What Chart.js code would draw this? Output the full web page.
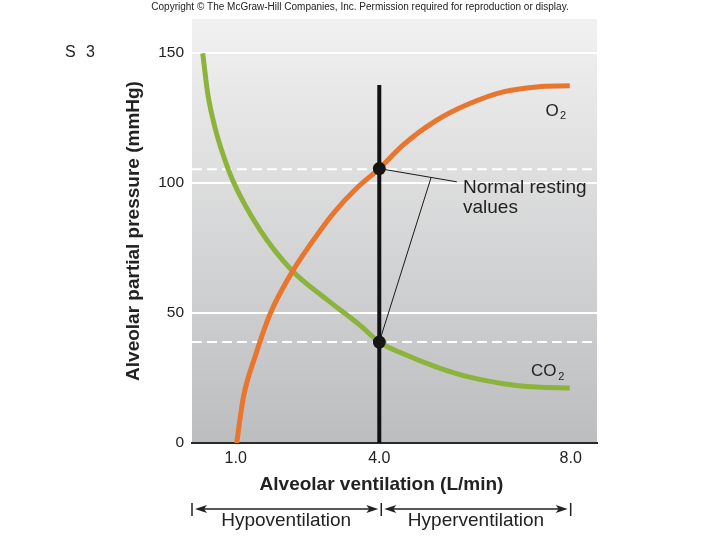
<!DOCTYPE html>
<html>
<head>
<meta charset="utf-8">
<script src="https://cdn.jsdelivr.net/npm/chart.js@4.4.1/dist/chart.umd.min.js"></script>
<style>
  html, body { margin: 0; padding: 0; background: #fff; }
  #wrap { width: 720px; height: 540px; }
</style>
</head>
<body>
<div id="wrap"><canvas id="ventChart" width="720" height="540"></canvas></div>
<script>
// values: ventilation in L/min, pressure in mmHg
const ventTicks = [1, 4, 8];
const pressureTicks = [0, 50, 100, 150];

const o2Vent = [1.02, 1.16, 1.40, 1.72, 2.20, 2.76, 3.04, 3.53, 4.0, 4.50, 5.20, 5.89, 6.59, 7.29, 7.98];
const o2Pressure = [0, 17.6, 33.0, 49.7, 66.4, 81.5, 88.3, 98.0, 105.5, 114.6, 124.1, 130.5, 135.0, 136.9, 137.3];

const co2Vent = [0.31, 0.42, 0.57, 0.74, 0.95, 1.51, 2.17, 2.90, 3.60, 4.0, 4.50, 5.20, 5.89, 6.59, 7.29, 7.98];
const co2Pressure = [149.8, 133.7, 121.0, 110.6, 100.4, 81.8, 66.4, 55.2, 45.2, 38.8, 34.3, 29.2, 25.3, 22.8, 21.5, 21.1];

// normal resting point
const restVent = 4.0;
const restO2 = 105.5;
const restCO2 = 38.8;
const restLineTop = 137.6;

// leader from the label to the two dots
const leaderEnd = [5.62, 100.4];
const leaderJoint = [5.08, 101.9];

const xMin = 0.086, xMax = 8.55;
const yMin = 0, yMax = 163;

const FONT = "'Liberation Sans', Arial, Helvetica, sans-serif";

function pts(xs, ys) {
  return xs.map((x, i) => ({ x: x, y: ys[i] }));
}

const panelBackground = {
  id: "panelBackground",
  beforeDraw(chart) {
    const { ctx, chartArea: a } = chart;
    const g = ctx.createLinearGradient(0, a.top, 0, a.bottom);
    g.addColorStop(0, "#f1f1f1");
    g.addColorStop(1, "#bcbdbf");
    ctx.save();
    ctx.fillStyle = g;
    ctx.fillRect(a.left, a.top, a.right - a.left, a.bottom - a.top);
    ctx.restore();
  }
};

function arrow(ctx, x1, x2, y) {
  ctx.beginPath();
  ctx.moveTo(x1 + 4, y);
  ctx.lineTo(x2 - 4, y);
  ctx.stroke();
  [[x1, 1], [x2, -1]].forEach(([x, d]) => {
    ctx.beginPath();
    ctx.moveTo(x, y);
    ctx.lineTo(x + d * 12, y - 4);
    ctx.lineTo(x + d * 9, y);
    ctx.lineTo(x + d * 12, y + 4);
    ctx.closePath();
    ctx.fill();
  });
}

const extraText = {
  id: "extraText",
  afterDraw(chart) {
    const ctx = chart.ctx;
    const xs = chart.scales.x;
    ctx.save();
    ctx.fillStyle = "#222";
    ctx.strokeStyle = "#222";

    // copyright line
    ctx.font = "10px " + FONT;
    ctx.textAlign = "center";
    ctx.textBaseline = "middle";
    ctx.fillText("Copyright \u00a9 The McGraw-Hill Companies, Inc. Permission required for reproduction or display.", 360, 7);

    // slide number
    ctx.font = "16px " + FONT;
    ctx.textAlign = "left";
    ctx.textBaseline = "alphabetic";
    ctx.letterSpacing = "3px";
    ctx.fillText("S 3", 65, 57);
    ctx.letterSpacing = "0px";

    // x axis title
    ctx.font = "bold 19px " + FONT;
    ctx.textAlign = "center";
    ctx.fillText("Alveolar ventilation (L/min)", 381.5, 490);

    // callout
    ctx.font = "19px " + FONT;
    ctx.textAlign = "left";
    ctx.fillText("Normal resting", 463, 192.5);
    ctx.fillText("values", 463, 212.5);

    // curve labels
    ctx.font = "17px " + FONT;
    ctx.fillText("O", 545.5, 116);
    ctx.fillText("CO", 531, 375.5);
    ctx.font = "11px " + FONT;
    ctx.fillText("2", 560, 118.5);
    ctx.fillText("2", 558.3, 379.5);

    // hypo / hyper ranges
    const pL = chart.chartArea.left;
    const pMid = xs.getPixelForValue(restVent) + 2;
    const pR = xs.getPixelForValue(ventTicks[2]);
    const ay = 509;
    ctx.lineWidth = 1.5;
    [pL, pMid, pR].forEach((p) => {
      ctx.beginPath();
      ctx.moveTo(p, ay - 6);
      ctx.lineTo(p, ay + 7);
      ctx.stroke();
    });
    arrow(ctx, pL + 3, pMid - 3, ay);
    arrow(ctx, pMid + 3, pR - 3, ay);

    ctx.font = "19px " + FONT;
    ctx.textAlign = "center";
    ctx.fillText("Hypoventilation", (pL + pMid) / 2 - 0.5, 526);
    ctx.fillText("Hyperventilation", (pMid + pR) / 2, 526);
    ctx.restore();
  }
};

const ctx = document.getElementById("ventChart").getContext("2d");
new Chart(ctx, {
  type: "scatter",
  data: {
    datasets: [
      {
        label: "Normal resting values",
        data: [{ x: restVent, y: restO2 }, { x: restVent, y: restCO2 }],
        pointRadius: 6.5,
        pointBackgroundColor: "#151515",
        pointBorderWidth: 0,
        showLine: false
      },
      {
        label: "leader upper",
        data: [{ x: restVent, y: restO2 }, { x: leaderEnd[0], y: leaderEnd[1] }],
        showLine: true,
        borderColor: "#1a1a1a",
        borderWidth: 1,
        pointRadius: 0
      },
      {
        label: "leader lower",
        data: [{ x: leaderJoint[0], y: leaderJoint[1] }, { x: restVent, y: restCO2 }],
        showLine: true,
        borderColor: "#1a1a1a",
        borderWidth: 1,
        pointRadius: 0
      },
      {
        label: "4 L/min",
        data: [{ x: restVent, y: 0 }, { x: restVent, y: restLineTop }],
        showLine: true,
        borderColor: "#111",
        borderWidth: 4,
        pointRadius: 0
      },
      {
        label: "O2",
        data: pts(o2Vent, o2Pressure),
        showLine: true,
        borderColor: "#e8762e",
        borderWidth: 5,
        pointRadius: 0,
        cubicInterpolationMode: "monotone"
      },
      {
        label: "CO2",
        data: pts(co2Vent, co2Pressure),
        showLine: true,
        borderColor: "#8cb43d",
        borderWidth: 5,
        pointRadius: 0,
        cubicInterpolationMode: "monotone"
      },
      {
        label: "O2 normal",
        data: [{ x: xMin, y: 105.2 }, { x: xMax, y: 105.2 }],
        showLine: true,
        borderColor: "#ffffff",
        borderWidth: 2,
        borderDash: [10, 5],
        pointRadius: 0
      },
      {
        label: "CO2 normal",
        data: [{ x: xMin, y: restCO2 }, { x: xMax, y: restCO2 }],
        showLine: true,
        borderColor: "#ffffff",
        borderWidth: 2,
        borderDash: [10, 5],
        pointRadius: 0
      }
    ]
  },
  options: {
    responsive: false,
    animation: false,
    layout: { padding: { left: 0, top: 19, right: 123, bottom: 0 } },
    scales: {
      x: {
        type: "linear",
        min: xMin,
        max: xMax,
        afterBuildTicks: (scale) => { scale.ticks = ventTicks.map((v) => ({ value: v })); },
        afterFit: (scale) => { scale.height = 97; },
        ticks: {
          color: "#222",
          font: { family: FONT, size: 16 },
          padding: 6,
          callback: (v) => Number(v).toFixed(1)
        },
        grid: { color: "rgba(0,0,0,0)", drawTicks: false },
        border: { display: true, color: "#2a2a2a", width: 2 }
      },
      y: {
        type: "linear",
        min: yMin,
        max: yMax,
        afterBuildTicks: (scale) => { scale.ticks = pressureTicks.map((v) => ({ value: v })); },
        afterFit: (scale) => { scale.width = 192; },
        ticks: {
          color: "#222",
          font: { family: FONT, size: 15.5 },
          padding: 8
        },
        grid: {
          color: (c) => (c.tick && c.tick.value === 0 ? "rgba(0,0,0,0)" : "#ffffff"),
          lineWidth: 2,
          drawTicks: false
        },
        border: { display: false },
        title: {
          display: true,
          text: "Alveolar partial pressure (mmHg)",
          color: "#222",
          font: { family: FONT, size: 19, weight: "bold" },
          padding: { top: 122.6, bottom: 0 }
        }
      }
    },
    plugins: {
      legend: { display: false },
      tooltip: { enabled: false }
    }
  },
  plugins: [panelBackground, extraText]
});
</script>
</body>
</html>
